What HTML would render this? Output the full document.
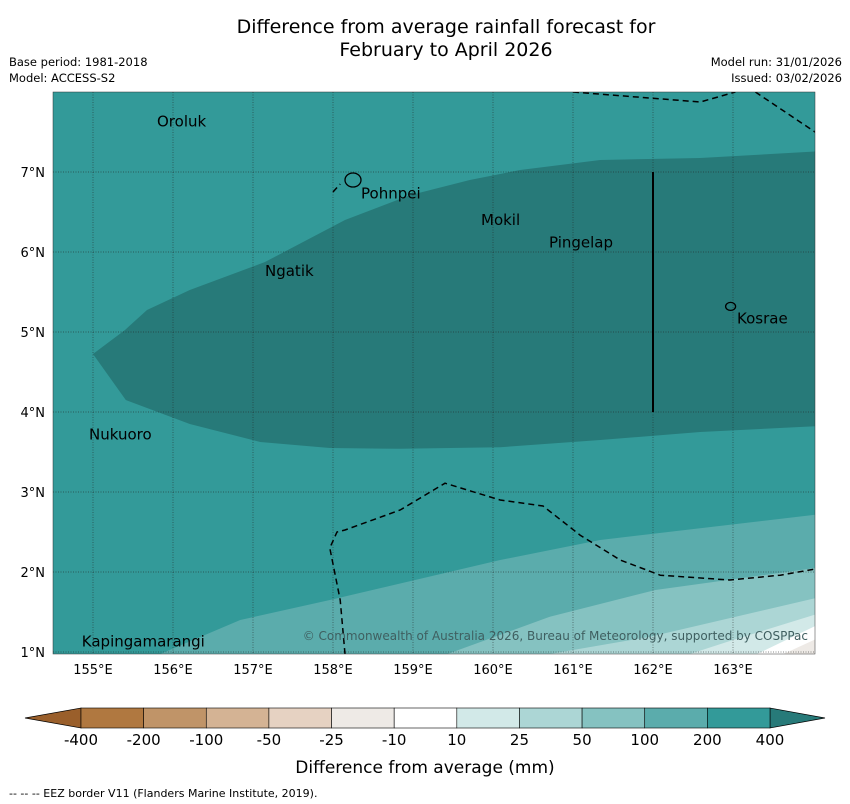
<!DOCTYPE html>
<html><head><meta charset="utf-8"><style>
body{margin:0;background:#fff;font-family:"Liberation Sans","DejaVu Sans",sans-serif;}
svg{display:block}
text{font-family:"DejaVu Sans","Liberation Sans",sans-serif;}
</style></head><body>
<svg id="c" width="850" height="804" xmlns="http://www.w3.org/2000/svg">
<text x="446" y="33" font-size="19" text-anchor="middle">Difference from average rainfall forecast for</text>
<text x="446" y="56" font-size="19" text-anchor="middle">February to April 2026</text>
<text x="9" y="66" font-size="11.5">Base period: 1981-2018</text>
<text x="9" y="82" font-size="11.5">Model: ACCESS-S2</text>
<text x="842" y="66" font-size="11.5" text-anchor="end">Model run: 31/01/2026</text>
<text x="842" y="82" font-size="11.5" text-anchor="end">Issued: 03/02/2026</text>
<defs><clipPath id="mc"><rect x="53" y="92" width="762" height="562"/></clipPath></defs>
<g id="map" clip-path="url(#mc)"></g>
<g id="ax"></g>
<g id="cb"></g>
<text x="425" y="773" font-size="17" text-anchor="middle">Difference from average (mm)</text>
<text x="9" y="797" font-size="11">--  --  -- EEZ border V11 (Flanders Marine Institute, 2019).</text>
</svg>
<script>
const lonTicks=[155,156,157,158,159,160,161,162,163];
const latTicks=[1,2,3,4,5,6,7];
const darkTop=[[155.0,4.725],[155.4,5.025],[155.675,5.275],[156.21,5.525],[157.15,5.875],[158.15,6.4],[158.96,6.71],[159.71,6.9],[160.34,7.025],[161.34,7.15],[162.59,7.175],[164.1,7.26]];
const darkBottom=[[164.1,3.825],[162.59,3.75],[161.34,3.65],[160.09,3.56],[158.84,3.54],[157.96,3.55],[157.09,3.625],[156.21,3.85],[155.41,4.15]];
const band100=[[155.84,0.975],[156.84,1.4],[157.96,1.65],[160.09,2.15],[161.34,2.4],[164.1,2.725]];
const band50=[[159.43,0.975],[160.71,1.44],[162.03,1.775],[164.1,2.06]];
const band25=[[160.71,0.975],[161.96,1.19],[164.1,1.69]];
const band10=[[162.46,0.975],[163.0,1.15],[164.1,1.49]];
const bandWhite=[[163.3,0.975],[164.1,1.36]];
const bandNeg10=[[163.63,0.975],[164.1,1.19]];
const eez1=[[161.0,8.0],[162.59,7.875],[163.03,8.0]];
const eez2=[[163.28,8.0],[164.1,7.45]];
const eez3=[[158.15,0.975],[158.09,1.65],[157.96,2.3],[158.05,2.5],[158.15,2.525],[158.84,2.775],[159.4,3.11],[160.09,2.9],[160.625,2.825],[161.09,2.46],[161.59,2.15],[162.09,1.96],[162.96,1.9],[163.59,1.96],[164.1,2.05]];
const eez4=[[158.0,6.75],[158.09,6.85]];
const islands=[["Oroluk",155.8,7.63],["Pohnpei",158.35,6.73],["Mokil",159.85,6.4],["Pingelap",160.7,6.12],["Ngatik",157.15,5.76],["Kosrae",163.05,5.17],["Nukuoro",154.95,3.72],["Kapingamarangi",154.86,1.13]];
const cbLabels=["-400","-200","-100","-50","-25","-10","10","25","50","100","200","400"];
const cbColors=["#b07840","#c09468","#d4b394","#e6d2c2","#eeeae6","#ffffff","#d2e9e8","#acd6d5","#85c2c1","#5bacac","#339a99"];
const NS="http://www.w3.org/2000/svg";
const X=lon=>53+(lon-154.5)*80, Y=lat=>92+(8-lat)*80;
function el(t,a,p){const e=document.createElementNS(NS,t);for(const k in a)e.setAttribute(k,a[k]);p.appendChild(e);return e;}
const map=document.getElementById('map'),ax=document.getElementById('ax'),cb=document.getElementById('cb');
const pts=a=>a.map(p=>X(p[0]).toFixed(1)+','+Y(p[1]).toFixed(1)).join(' ');
let r=el('rect',{x:53,y:92,width:762,height:562,fill:'#339a99'},map);


let d=el('polygon',{points:pts(darkTop.concat(darkBottom)),fill:'#277a79'},map);


const bands=[[band100,'#5bacac','band-100-200'],[band50,'#85c2c1','band-50-100'],[band25,'#acd6d5','band-25-50'],[band10,'#d2e9e8','band-10-25'],[bandWhite,'#ffffff','band-neutral'],[bandNeg10,'#eeeae6','band-minus-10-25']];
bands.forEach(b=>{const p=el('polygon',{points:pts(b[0].concat([[164.1,0.9],[b[0][0][0],0.9]])),fill:b[1]},map);

});
lonTicks.forEach(l=>{const g=el('line',{x1:X(l),x2:X(l),y1:92,y2:654,stroke:'#222','stroke-width':0.7,'stroke-dasharray':'1,1.5',opacity:0.7},map);


const t=el('text',{x:X(l),y:674,'font-size':13,'text-anchor':'middle'},ax);t.textContent=l+'°E';

});
latTicks.forEach(l=>{const g=el('line',{x1:53,x2:815,y1:Y(l),y2:Y(l),stroke:'#222','stroke-width':0.7,'stroke-dasharray':'1,1.5',opacity:0.7},map);


const t=el('text',{x:45,y:Y(l)+5,'font-size':13,'text-anchor':'end'},ax);t.textContent=l+'°N';

});
[eez1,eez2,eez3,eez4].forEach(e=>{const p=el('polyline',{points:pts(e),fill:'none',stroke:'#000','stroke-width':1.5,'stroke-dasharray':'6,4'},map);

});
let v=el('line',{x1:X(162),x2:X(162),y1:Y(7),y2:Y(4),stroke:'#000','stroke-width':2},map);


el('ellipse',{cx:X(158.25),cy:Y(6.9),rx:8,ry:7,fill:'none',stroke:'#000','stroke-width':1.3},map);
el('ellipse',{cx:X(162.97),cy:Y(5.32),rx:5,ry:4,fill:'none',stroke:'#000','stroke-width':1.3},map);
islands.forEach(i=>{const t=el('text',{x:X(i[1]),y:Y(i[2])+5,'font-size':15},map);t.textContent=i[0];

});
const cp=el('text',{x:808,y:640,'font-size':12,'text-anchor':'end',fill:'#3f5f60'},map);cp.textContent='© Commonwealth of Australia 2026, Bureau of Meteorology, supported by COSPPac';


el('rect',{x:53,y:92,width:762,height:562,fill:'none',stroke:'#333','stroke-width':0.5},ax);
const x0=81,w=(770-81)/cbColors.length,y0=708,h=20;
let u=el('polygon',{points:`25,718 ${x0},${y0} ${x0},${y0+h}`,fill:'#9a5f2b',stroke:'#000','stroke-width':0.7},cb);


let o=el('polygon',{points:`825,718 770,${y0} 770,${y0+h}`,fill:'#277a79',stroke:'#000','stroke-width':0.7},cb);


cbColors.forEach((c,i)=>{const b=el('rect',{x:x0+i*w,y:y0,width:w,height:h,fill:c,stroke:'#000','stroke-width':0.6},cb);

});
cbLabels.forEach((l,i)=>{const t=el('text',{x:x0+i*w,y:745,'font-size':15,'text-anchor':'middle'},cb);t.textContent=l;

});
</script>
</body></html>
